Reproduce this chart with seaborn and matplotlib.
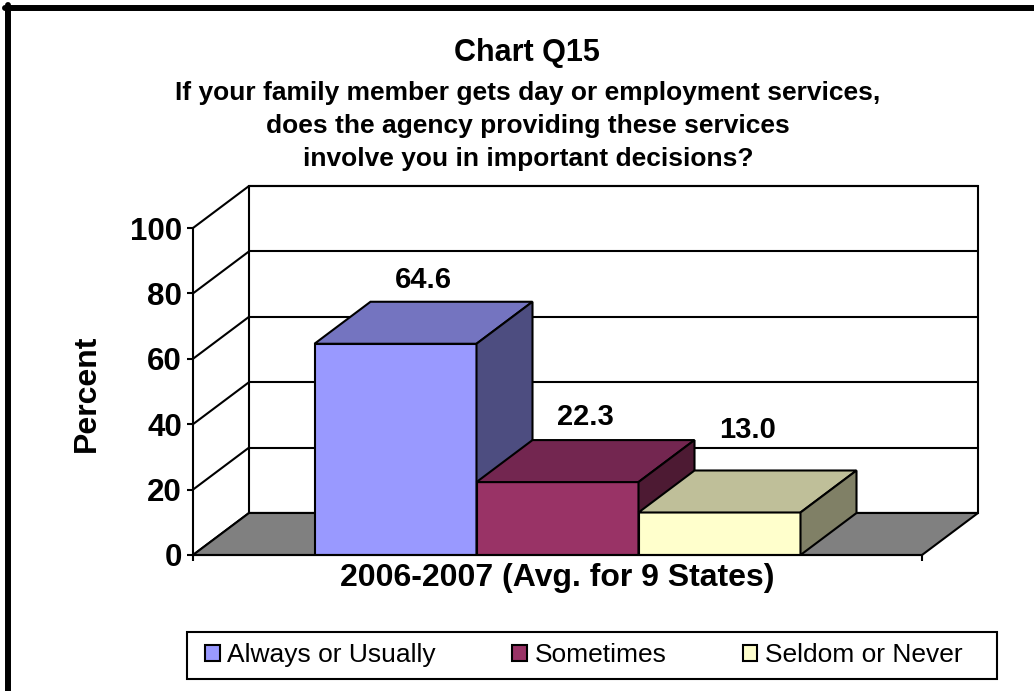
import matplotlib
matplotlib.use("Agg")
import matplotlib.pyplot as plt
from matplotlib.patches import Polygon, Rectangle
from matplotlib.lines import Line2D
import seaborn as sns
import pandas as pd

# ---- data -------------------------------------------------------------
period = "2006-2007 (Avg. for 9 States)"
responses = ["Always or Usually", "Sometimes", "Seldom or Never"]
percents = [64.6, 22.3, 13.0]
y_ticks = [0, 20, 40, 60, 80, 100]

# ---- style -------------------------------------------------------------
front_colors = ["#9999FF", "#993366", "#FFFFCC"]
top_colors = ["#7474C0", "#732650", "#BFBF99"]
side_colors = ["#4D4D80", "#4D1A33", "#808066"]
floor_color = "#808080"
depth_px = (56, 42)            # oblique depth offset of the 3-D box, in pixels
label_lift_px = [43, 44, 61]   # height of each value label above its bar's mid-depth top

sns.set_theme(style="white")
plt.rcParams["font.family"] = ["Liberation Sans", "DejaVu Sans"]
plt.rcParams.update({"text.color": "black", "axes.labelcolor": "black",
                     "xtick.color": "black", "ytick.color": "black"})

W, H = 1034, 691
fig = plt.figure(figsize=(W / 100, H / 100), dpi=100)
ax = fig.add_axes([193 / W, 136 / H, 729 / W, 327 / H])

df = pd.DataFrame({"period": [period] * len(responses),
                   "response": responses,
                   "percent": percents})

sns.barplot(data=df, x="period", y="percent", hue="response",
            hue_order=responses, palette=front_colors, saturation=1,
            width=2 / 3, gap=0, errorbar=None, legend=False,
            edgecolor="black", linewidth=1.5, ax=ax)

ax.set_xlim(-0.5, 0.5)
ax.set_ylim(0, 100)
ax.set_yticks(y_ticks)
ax.set_facecolor("none")
for side in ("top", "right"):
    ax.spines[side].set_visible(False)
for side in ("left", "bottom"):
    ax.spines[side].set_color("black")
    ax.spines[side].set_linewidth(1.5)
    ax.spines[side].set_zorder(10)

fig.canvas.draw()
to_disp = ax.transData.transform
to_data = ax.transData.inverted().transform


def back(x, y, frac=1.0):
    """Data coordinates of (x, y) pushed into the depth of the 3-D box."""
    px, py = to_disp((x, y))
    return tuple(to_data((px + depth_px[0] * frac, py + depth_px[1] * frac)))


x0, x1 = ax.get_xlim()
ymax = y_ticks[-1]
line_kw = dict(color="black", lw=1.5, clip_on=False, zorder=1)

bars = sorted([p for p in ax.patches if isinstance(p, Rectangle)],
              key=lambda p: p.get_x())

# back wall
wall = Polygon([back(x0, 0), back(x0, ymax), back(x1, ymax), back(x1, 0)],
               closed=True, facecolor="white", edgecolor="black", lw=1.5,
               clip_on=False, zorder=0.5)
ax.add_patch(wall)
for t in y_ticks:
    bx0, by0 = back(x0, t)
    bx1, by1 = back(x1, t)
    ax.add_line(Line2D([bx0, bx1], [by0, by1], **line_kw))
    # oblique grid line across the side wall
    ax.add_line(Line2D([x0, bx0], [t, by0], **line_kw))

# floor
floor = Polygon([(x0, 0), back(x0, 0), back(x1, 0), (x1, 0)], closed=True,
                facecolor=floor_color, edgecolor="black", lw=1.5,
                clip_on=False, zorder=1.5)
ax.add_patch(floor)

# bars: front faces come from seaborn, top and side faces follow them
for i, (bar, val) in enumerate(zip(bars, percents)):
    z = 3 + i
    bl, br = bar.get_x(), bar.get_x() + bar.get_width()
    h = bar.get_height()
    bar.set_zorder(z)
    top = Polygon([(bl, h), back(bl, h), back(br, h), (br, h)],
                  closed=True, facecolor=top_colors[i], edgecolor="black",
                  lw=1.5, clip_on=False, zorder=z)
    side = Polygon([(br, 0), back(br, 0), back(br, h), (br, h)],
                   closed=True, facecolor=side_colors[i], edgecolor="black",
                   lw=1.5, clip_on=False, zorder=z)
    ax.add_patch(top)
    ax.add_patch(side)
    cx, cy = back((bl + br) / 2, h, 0.5)
    px, py = to_disp((cx, cy))
    lx, ly = to_data((px, py + label_lift_px[i]))
    ax.text(lx, ly, f"{val:.1f}", ha="center", va="center", fontsize=21,
            fontweight="bold", color="black", zorder=20, clip_on=False)

# axes ticks and labels
ax.tick_params(axis="y", which="major", direction="out", length=4.5, width=1.5,
               color="black", pad=3.5, labelsize=22.5, left=True)
for lab in ax.get_yticklabels():
    lab.set_fontweight("bold")
ax.set_xticks([0])
ax.set_xticklabels([period], fontsize=23, fontweight="bold")
ax.set_xticks([x0, x1], minor=True)
ax.tick_params(axis="x", which="major", length=0, pad=6)
ax.tick_params(axis="x", which="minor", direction="out", length=4.5, width=1.5,
               color="black", bottom=True)
ax.set_xlabel("")
ax.set_ylabel("Percent", fontsize=23, fontweight="bold", va="center")
ax.yaxis.set_label_coords((87 - 193) / 729, (555 - 393) / 327)

# titles
fig.text(527 / W, 1 - 61 / H, "Chart Q15", ha="center", va="baseline",
         fontsize=22, fontweight="bold")
subtitle = ["If your family member gets day or employment services,",
            "does the agency providing these services",
            "involve you in important decisions?"]
for k, line in enumerate(subtitle):
    fig.text(528 / W, 1 - (100 + 33 * k) / H, line, ha="center",
             va="baseline", fontsize=19, fontweight="bold")

# legend: entries spread across the box, box drawn around them
handles = [Rectangle((0, 0), 1, 1, facecolor=c, edgecolor="black", lw=1.5)
           for c in front_colors]
leg = fig.legend(handles, responses, ncol=3, loc="center left",
                 bbox_to_anchor=(205 / W, 1 - 667 / H, 758 / W, 24 / H),
                 mode="expand", fontsize=19, frameon=False,
                 handlelength=0.55, handleheight=0.55, handletextpad=0.3,
                 borderpad=0, borderaxespad=0, columnspacing=1.0)
for txt in leg.get_texts():
    txt.set_color("black")
fig.add_artist(Rectangle((187 / W, 12 / H), 810 / W, 47 / H,
                         facecolor="none", edgecolor="black", lw=1.5,
                         transform=fig.transFigure))

# chart-area border
fig.add_artist(Line2D([8 / W, 8 / W], [0, 1 - 5 / H], color="black",
                      lw=4.3, transform=fig.transFigure))
fig.add_artist(Line2D([5 / W, 1], [1 - 8 / H, 1 - 8 / H], color="black",
                      lw=4.3, transform=fig.transFigure))

fig.savefig("out.png", dpi=100, facecolor="white")
